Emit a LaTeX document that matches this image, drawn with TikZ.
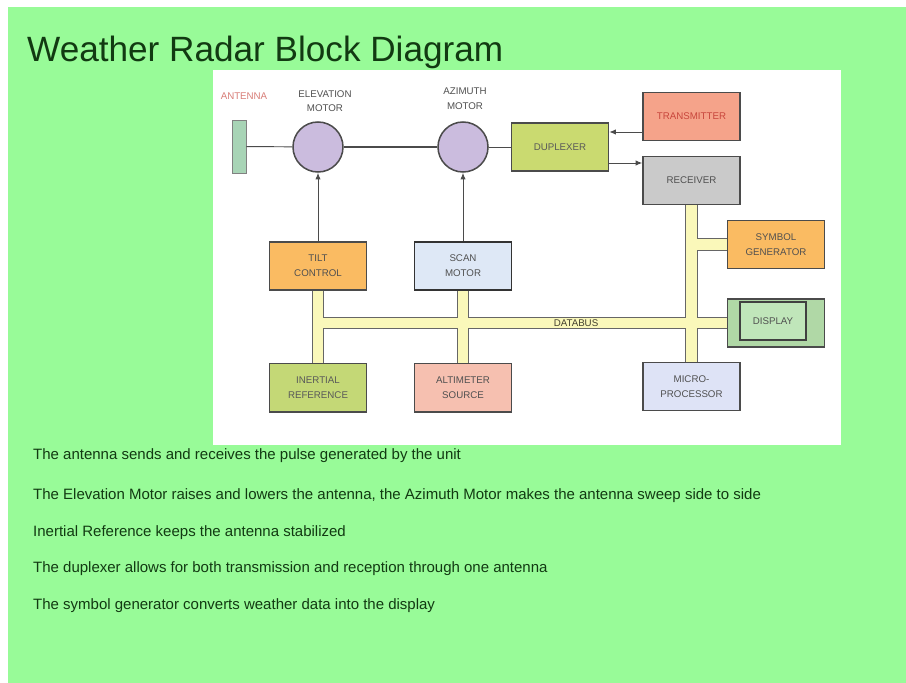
\documentclass[tikz,border=0pt]{standalone}
\usepackage{fontspec}
\setmainfont{Liberation Sans}
\usepackage{tikz}
\usetikzlibrary{shapes, arrows.meta, positioning}

\definecolor{slidebg}{RGB}{152,251,152}
\definecolor{ink}{RGB}{18,58,18}
\definecolor{boxline}{RGB}{75,75,75}
\definecolor{boxtext}{RGB}{80,80,80}
\definecolor{antc}{RGB}{168,212,182}
\definecolor{motorc}{RGB}{203,188,222}
\definecolor{dupc}{RGB}{202,218,112}
\definecolor{txc}{RGB}{245,163,138}
\definecolor{txtext}{RGB}{200,70,60}
\definecolor{rxc}{RGB}{202,202,202}
\definecolor{orangec}{RGB}{250,187,98}
\definecolor{scanc}{RGB}{222,232,246}
\definecolor{inertc}{RGB}{196,216,118}
\definecolor{altc}{RGB}{246,192,176}
\definecolor{microc}{RGB}{222,227,246}
\definecolor{dispc}{RGB}{176,216,166}
\definecolor{dispin}{RGB}{192,230,186}
\definecolor{busc}{RGB}{250,248,186}

\tikzstyle{block} = [draw=boxline, line width=1.2pt, rectangle, minimum width=2.91cm, minimum height=1.45cm, inner sep=0pt, align=center, text=boxtext, font=\fontsize{8.3}{13}\selectfont]
\tikzstyle{motor} = [draw=boxline, line width=1.3pt, circle, fill=motorc, minimum size=1.5cm, inner sep=0pt]
\tikzstyle{lbl} = [align=center, text=boxtext, font=\fontsize{8.3}{12.5}\selectfont]
\tikzstyle{note} = [anchor=base west, text=ink, font=\fontsize{12.8}{15}\selectfont, inner sep=0pt]
\tikzstyle{wire} = [draw=boxline, line width=0.8pt]
\tikzstyle{busedge} = [line width=3.7mm, draw=black!60]
\tikzstyle{busfill} = [line width=3.1mm, draw=busc]

\begin{document}
\begin{tikzpicture}[x=0.03cm, y=-0.03cm, >={Latex[length=2mm, width=1.6mm]}]
  \useasboundingbox (0,0) rectangle (906,683);
  \fill[slidebg] (8,7) rectangle (906,683);
  \fill[white] (213,70) rectangle (841,445);

  \node[anchor=base west, inner sep=0pt, text=ink, font=\fontsize{30}{35}\selectfont] (title) at (27,62) {Weather Radar Block Diagram};

  % antenna and motors
  \node[draw=boxline!70, line width=0.8pt, fill=antc, minimum width=0.42cm, minimum height=1.59cm, inner sep=0pt] (ant) at (239,146.5) {};
  \node[lbl, text=txtext!70] (antlbl) at (244,96) {ANTENNA};
  \node[motor] (elev) at (318,147) {};
  \node[motor, right of=elev, node distance=4.35cm] (azim) {};
  \node[lbl] (elevlbl) at (325,101) {ELEVATION\\MOTOR};
  \node[lbl] (azimlbl) at (465,99) {AZIMUTH\\MOTOR};

  \node[block, fill=dupc, text=black!65] (dup) at (560,147) {DUPLEXER};
  \node[block, fill=txc, text=txtext] (tx) at (691.5,116.5) {TRANSMITTER};
  \node[block, fill=rxc, below of=tx, node distance=1.92cm] (rx) {RECEIVER};

  \node[block, fill=orangec, below of=elev, node distance=3.57cm] (tilt) {TILT\\CONTROL};
  \node[block, fill=scanc, draw=black!80, line width=1.6pt, right of=tilt, node distance=4.35cm] (scan) {SCAN\\MOTOR};
  \node[block, fill=inertc, text=black!65, below of=tilt, node distance=3.65cm] (inert) {INERTIAL\\REFERENCE};
  \node[block, fill=altc, right of=inert, node distance=4.35cm] (alt) {ALTIMETER\\SOURCE};

  \node[block, fill=orangec] (sym) at (776,244.5) {SYMBOL\\GENERATOR};
  \node[block, fill=dispc, below of=sym, node distance=2.355cm] (disp) {};
  \node[block, fill=dispin, draw=black!75, line width=1.5pt, minimum width=2.0cm, minimum height=1.14cm] (dispbox) at ([xshift=-0.09cm, yshift=0.06cm]disp.center) {DISPLAY};
  \node[block, fill=microc, below of=rx, node distance=6.18cm] (micro) {MICRO-\\PROCESSOR};

  \draw[wire] (ant) -- (elev);
  \draw[wire, line width=1.6pt] (elev) -- (azim);
  \draw[wire] (azim) -- (dup);
  \draw[->, wire] ([yshift=-4.65mm]tx.west) -- ([yshift=-4.65mm]tx.west -| dup.east);
  \draw[->, wire] ([yshift=-4.8mm]dup.east) -- ([yshift=-4.8mm]dup.east -| rx.west);
  \draw[->, wire] (tilt) -- (elev);
  \draw[->, wire] (scan) -- (azim);

  % data bus
  \coordinate (busl) at (tilt.south |- disp.west);
  \foreach \s in {busedge, busfill} {
    \draw[\s] (tilt.south) -- (inert.north);
    \draw[\s] (scan.south) -- (alt.north);
    \draw[\s] (rx.south) -- (micro.north);
    \draw[\s] (busl) -- (disp.west);
    \draw[\s] (rx.south |- sym.west) -- (sym.west);
  }
  \node[lbl, text=black!70!olive, inner sep=0pt] (buslbl) at (576,323) {DATABUS};

  % notes
  \node[note] (n1) at (33,459) {The antenna sends and receives the pulse generated by the unit};
  \node[note] (n2) at (33,499) {The Elevation Motor raises and lowers the antenna, the Azimuth Motor makes the antenna sweep side to side};
  \node[note] (n3) at (33,536) {Inertial Reference keeps the antenna stabilized};
  \node[note] (n4) at (33,572) {The duplexer allows for both transmission and reception through one antenna};
  \node[note] (n5) at (33,609) {The symbol generator converts weather data into the display};
\end{tikzpicture}
\end{document}
